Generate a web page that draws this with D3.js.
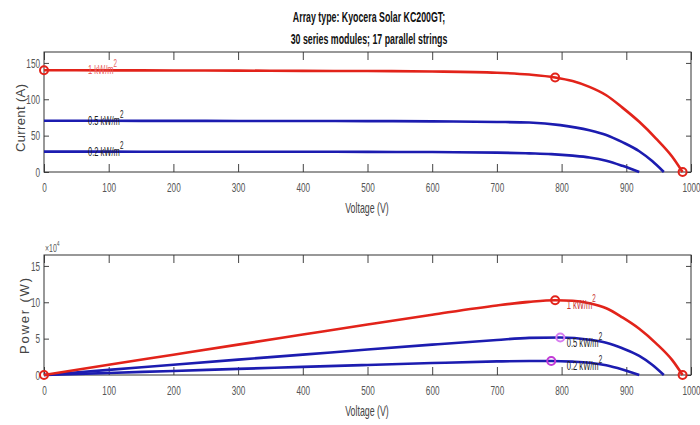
<!DOCTYPE html>
<html>
<head>
<meta charset="utf-8">
<script src="https://cdn.jsdelivr.net/npm/d3@7"></script>
<style>
body { margin: 0; background: #fff; }
svg { display: block; font-family: "Liberation Sans", Arial, sans-serif; }
</style>
</head>
<body>
<svg width="700" height="425"></svg>
<script>
/**
 * Data
 */
var titleLines = ['Array type: Kyocera Solar KC200GT;', '30 series modules; 17 parallel strings'];
var xTicks = [0, 100, 200, 300, 400, 500, 600, 700, 800, 900, 1000];
var currentTicks = [0, 50, 100, 150];
var powerTicks = [0, 50000, 100000, 150000];
var irradianceLabels = ['1 kW/m', '0.5 kW/m', '0.2 kW/m'];

// 1 kW/m2
var volt1 = [0, 100, 200, 300, 400, 500, 600, 700, 750, 790, 817, 843, 869, 894, 920, 946, 971, 987];
var amps1 = [140, 139.8, 139.6, 139.4, 139.1, 138.8, 138.2, 136.5, 134, 130, 125, 117, 105.5, 88.5, 69, 46, 21, 0];
var watt1 = [0, 14000, 27900, 41800, 55600, 69400, 82900, 95600, 100500, 102700, 102100, 98600, 91700, 79100, 63500, 43500, 20400, 0];

// 0.5 kW/m2
var volt05 = [0, 100, 200, 300, 400, 500, 600, 700, 750, 798, 843, 869, 894, 920, 940, 958];
var amps05 = [70.5, 70.4, 70.3, 70.2, 70.1, 70, 69.6, 68.8, 68, 64.5, 57.5, 51, 41, 28.5, 15, 0];
var watt05 = [0, 7000, 14100, 21100, 28000, 35000, 41800, 48200, 51000, 51500, 48500, 44300, 36700, 26200, 14100, 0];

// 0.2 kW/m2
var volt02 = [0, 100, 200, 300, 400, 500, 600, 700, 750, 784, 817, 843, 869, 894, 920];
var amps02 = [28, 27.95, 27.9, 27.85, 27.8, 27.7, 27.4, 26.7, 25.6, 24.6, 22.5, 20, 15.5, 8.5, 0];
var watt02 = [0, 2800, 5580, 8360, 11120, 13850, 16440, 18690, 19200, 19290, 18380, 16860, 13470, 7600, 0];

// index of the maximum power point in each series
var mppIndex = [9, 9, 9];

/**
 * Layout
 */
var svg = d3.select('svg');
var SX = 0.63;   // text in the picture is narrow
var red = '#e2231a', blue = '#1c1cb0';
var tickColor = '#555';

var x = d3.scaleLinear().domain([0, 1000]).range([44, 691]);
var yI = d3.scaleLinear().domain([0, 165]).range([172, 52]);
var yP = d3.scaleLinear().domain([0, 165000]).range([375, 255]);

var series = [
    {v: volt02, i: amps02, p: watt02, color: blue, label: irradianceLabels[2], mpp: mppIndex[2], textColor: '#222', mppColor: '#c23ad6'},
    {v: volt05, i: amps05, p: watt05, color: blue, label: irradianceLabels[1], mpp: mppIndex[1], textColor: '#222', mppColor: '#d77cf0'},
    {v: volt1, i: amps1, p: watt1, color: red, label: irradianceLabels[0], mpp: mppIndex[0], textColor: '#e86060', mppColor: red}
];

// narrow every text of a selection
function squeeze(sel) {
    sel.each(function() {
        var t = d3.select(this);
        t.attr('x', (+t.attr('x') || 0) / SX)
         .attr('transform', 'scale(' + SX + ',1)');
    });
}

function drawFrame(y, ticks, fmt) {
    var bot = y.range()[0], top = y.range()[1];
    var g = svg.append('g');

    var gb = g.append('g').attr('transform', 'translate(0,' + bot + ')')
        .call(d3.axisBottom(x).tickValues(xTicks).tickSize(-8).tickPadding(11).tickFormat(d3.format('d')));
    g.append('g').attr('transform', 'translate(0,' + top + ')')
        .call(d3.axisTop(x).tickValues(xTicks).tickSize(-8).tickFormat(''));
    var gl = g.append('g').attr('transform', 'translate(44,0)')
        .call(d3.axisLeft(y).tickValues(ticks).tickSize(-5).tickPadding(4).tickFormat(fmt));
    g.append('g').attr('transform', 'translate(691,0)')
        .call(d3.axisRight(y).tickValues(ticks).tickSize(-5).tickFormat(''));

    g.selectAll('.domain').remove();
    g.selectAll('.tick line').attr('stroke', '#444');
    [gb, gl].forEach(function(a) {
        a.attr('font-size', 13).attr('font-family', null);
        a.selectAll('text').attr('fill', tickColor).call(squeeze);
    });

    g.append('rect')
        .attr('x', 44).attr('y', top)
        .attr('width', 647).attr('height', bot - top)
        .attr('fill', 'none').attr('stroke', '#333');

    // x axis title
    var xt = g.append('g').attr('transform', 'translate(' + [367, bot + 41] + ')');
    xt.append('text').attr('text-anchor', 'middle').attr('font-size', 14)
        .attr('fill', '#444').text('Voltage (V)').call(squeeze);
}

function addLabel(px, py, s, color) {
    var t = svg.append('g').attr('transform', 'translate(' + [px, py] + ')')
        .append('text').attr('font-size', 12).attr('fill', color)
        .attr('transform', 'scale(' + SX + ',1)');
    t.append('tspan').text(s.label);
    t.append('tspan').attr('dy', -7).attr('font-size', 10).text('2');
}

/**
 * Title
 */
titleLines.forEach(function(line, k) {
    svg.append('g').attr('transform', 'translate(' + [369, 22 + k * 22] + ')')
        .append('text').attr('text-anchor', 'middle').attr('font-size', 14)
        .attr('font-weight', 'bold').attr('fill', '#111').text(line).call(squeeze);
});

/**
 * Panels
 */
drawFrame(yI, currentTicks, d3.format('d'));
drawFrame(yP, powerTicks, function(d) { return d / 10000; });

svg.append('g').attr('transform', 'translate(25,118)')
    .append('text').attr('transform', 'rotate(-90)').attr('text-anchor', 'middle')
    .attr('font-size', 13).attr('fill', '#444').attr('textLength', 68)
    .text('Current (A)');
svg.append('g').attr('transform', 'translate(29,316)')
    .append('text').attr('transform', 'rotate(-90)').attr('text-anchor', 'middle')
    .attr('font-size', 13).attr('fill', '#444').attr('textLength', 76)
    .text('Power (W)');

// x10^4 multiplier
var mult = svg.append('g').attr('transform', 'translate(45,252)')
    .append('text').attr('font-size', 11).attr('fill', tickColor)
    .attr('transform', 'scale(' + SX + ',1)');
mult.append('tspan').text('\u00d710');
mult.append('tspan').attr('dy', -6).attr('font-size', 8).text('4');

var ivLine = d3.line().curve(d3.curveMonotoneX);

series.forEach(function(s) {
    var ivPts = s.v.map(function(v, k) { return [x(v), yI(s.i[k])]; });
    var pvPts = s.v.map(function(v, k) { return [x(v), yP(s.p[k])]; });

    svg.append('path').attr('d', ivLine(ivPts))
        .attr('fill', 'none').attr('stroke', s.color).attr('stroke-width', 2.6);
    svg.append('path').attr('d', ivLine(pvPts))
        .attr('fill', 'none').attr('stroke', s.color).attr('stroke-width', 2.6);

    // labels
    addLabel(x(68), yI(s.i[0]) + 4, s, s.textColor);
    addLabel(x(808), yP(s.p[s.mpp]) + 9, s, s.textColor === '#222' ? '#222' : '#c83030');
});

// markers
function marker(px, py, color) {
    svg.append('circle').attr('cx', px).attr('cy', py).attr('r', 4)
        .attr('fill', 'none').attr('stroke', color).attr('stroke-width', 2);
}

var s1 = series[2];
var last = s1.v.length - 1;
marker(x(s1.v[0]), yI(s1.i[0]), red);
marker(x(s1.v[s1.mpp]), yI(s1.i[s1.mpp]), red);
marker(x(s1.v[last]), yI(s1.i[last]), red);
marker(x(s1.v[0]), yP(s1.p[0]), red);
marker(x(s1.v[last]), yP(s1.p[last]), red);

series.forEach(function(s) {
    marker(x(s.v[s.mpp]), yP(s.p[s.mpp]), s.mppColor);
});
</script>
</body>
</html>
